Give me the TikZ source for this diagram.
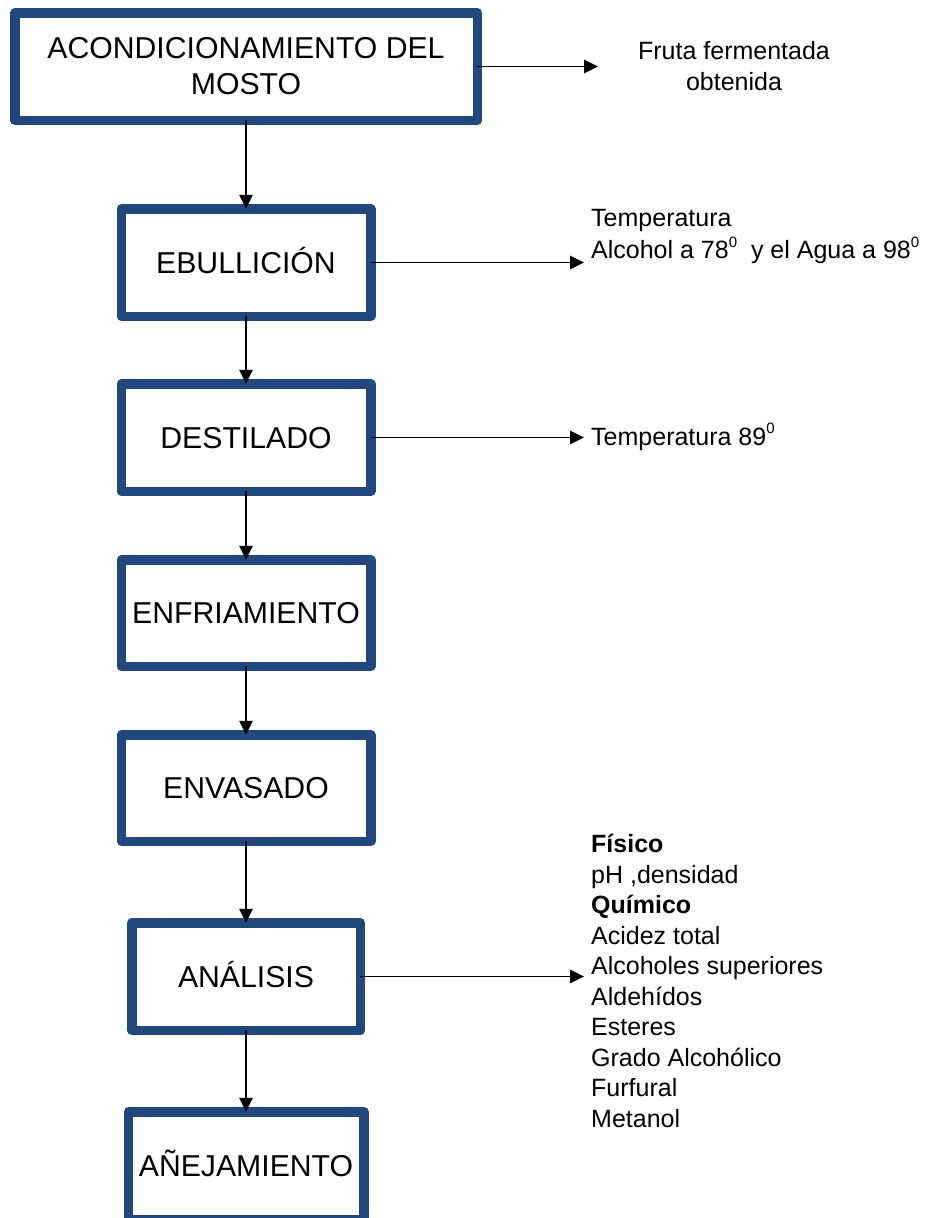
\documentclass[tikz,border=0pt]{standalone}
\usepackage{fontspec}
\setmainfont{Liberation Sans}
\usetikzlibrary{arrows.meta}
\definecolor{boxblue}{RGB}{32,72,125}
\newcommand\supz{\raisebox{0.45em}{\fontsize{15}{15}\selectfont 0}}
\begin{document}
\begin{tikzpicture}[x=1pt,y=-1pt,
  stepbox/.style={draw=boxblue, line width=9.5pt, line join=round, fill=white,
    outer sep=0pt, inner sep=0pt, align=center,
    font=\fontsize{30.2}{36}\selectfont},
  oneline/.style={text height=21.5pt, text depth=0pt},
  flow/.style={line width=1.1pt, -{Triangle[length=14pt,width=13.5pt]}},
  side/.style={inner sep=0pt, font=\fontsize{25}{30.5}\selectfont, align=left}]
\useasboundingbox (0,0) rectangle (924,1218);
\clip (0,0) rectangle (924,1218);

% process boxes
\node[stepbox, minimum width=462.5pt, minimum height=107.5pt] (b1) at (246,66.5)
  {ACONDICIONAMIENTO DEL\\MOSTO};
\node[stepbox, oneline, minimum width=249.5pt, minimum height=107.5pt] (b2) at (246,262.5) {EBULLICIÓN};
\node[stepbox, oneline, minimum width=249.5pt, minimum height=107.5pt] (b3) at (246,437.5) {DESTILADO};
\node[stepbox, oneline, minimum width=249.5pt, minimum height=106.5pt] (b4) at (246,613) {ENFRIAMIENTO};
\node[stepbox, oneline, minimum width=249.5pt, minimum height=106.5pt] (b5) at (246,788) {ENVASADO};
\node[stepbox, oneline, minimum width=228.5pt, minimum height=107.5pt] (b6) at (246,976.5) {ANÁLISIS};
\node[stepbox, oneline, minimum width=235.5pt, minimum height=107.5pt] (b7) at (246,1165.5) {AÑEJAMIENTO};

% side texts
\node[side, anchor=north, align=center] (fruta) at (734,41.5) {Fruta fermentada\\obtenida};
\node[side, anchor=north west, font=\fontsize{25}{31.5}\selectfont] (temp2) at (591,209.5)
  {Temperatura\\Alcohol a 78\supz\ \ y el Agua a 98\supz};
\node[side, anchor=base west] (temp3) at (591,445) {Temperatura 89\supz};
\node[side, anchor=north west] (anal) at (591,834)
  {\textbf{Físico}\\pH ,densidad\\\textbf{Químico}\\Acidez total\\Alcoholes superiores\\Aldehídos\\Esteres\\Grado Alcohólico\\Furfural\\Metanol};

% arrow ends
\coordinate (e1) at (598,66.5);
\coordinate (e2) at (584,262.5);
\coordinate (e3) at (584,437.5);
\coordinate (e6) at (584,976.5);

% connectors
\draw[flow] (b1.south) -- (b2.north);
\draw[flow] (b2.south) -- (b3.north);
\draw[flow] (b3.south) -- (b4.north);
\draw[flow] (b4.south) -- (b5.north);
\draw[flow] (b5.south) -- (b6.north);
\draw[flow] (b6.south) -- (b7.north);
\draw[flow] (b1.east) -- (e1);
\draw[flow] (b2.east) -- (e2);
\draw[flow] (b3.east) -- (e3);
\draw[flow] (b6.east) -- (e6);
\end{tikzpicture}
\end{document}
